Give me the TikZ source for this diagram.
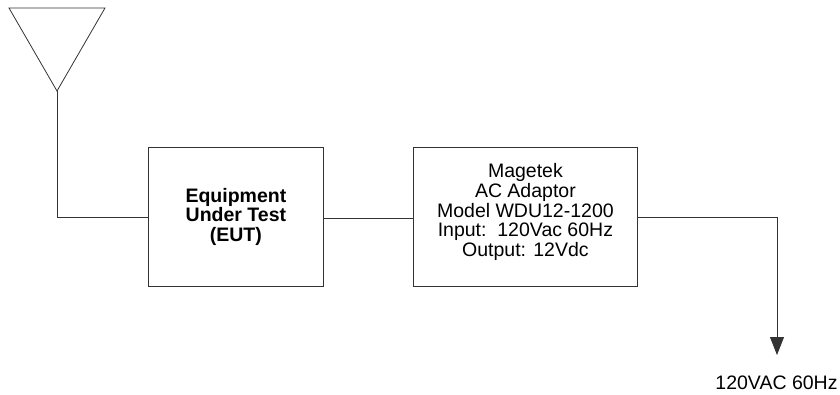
\documentclass[tikz,border=0pt]{standalone}
\usepackage{fontspec}
\setmainfont{Liberation Sans}
\usetikzlibrary{arrows.meta}
\begin{document}
\begin{tikzpicture}[x=1pt,y=-1pt,
  wire/.style={line width=0.8pt, draw=black!80},
  blockbox/.style={draw=black!80, line width=0.8pt, minimum height=139pt, align=center, font=\fontsize{19.5}{19.7}\selectfont, inner sep=0pt, anchor=north west}]
\useasboundingbox (0,0) rectangle (840,394);
\draw[wire] (9,8) coordinate (tl) -- (105,8) coordinate (tr) -- (57,91) coordinate (ap) -- cycle;
\node[blockbox, minimum width=175pt] (eut) at (148,147) {\textbf{Equipment}\\\textbf{Under Test}\\\textbf{(EUT)}};
\node[blockbox, minimum width=224pt] (ad) at (413,147) {Magetek\\AC Adaptor\\Model WDU12-1200\\Input:~~120Vac 60Hz\\Output: 12Vdc\\[-6pt]\mbox{}};
\coordinate (corner) at (57,217);
\coordinate (tip) at (777,355);
\draw[wire] (ap) -- (corner) -- (eut.west |- corner);
\draw[wire] (eut.east |- 0,218) -- (ad.west |- 0,218);
\draw[wire, -{Triangle[length=18pt,width=14pt]}] (ad.east |- 0,217) -| (tip);
\node[font=\fontsize{19.5}{20}\selectfont, anchor=center] (lbl) at (776.5,383) {120VAC 60Hz};
\end{tikzpicture}
\end{document}
